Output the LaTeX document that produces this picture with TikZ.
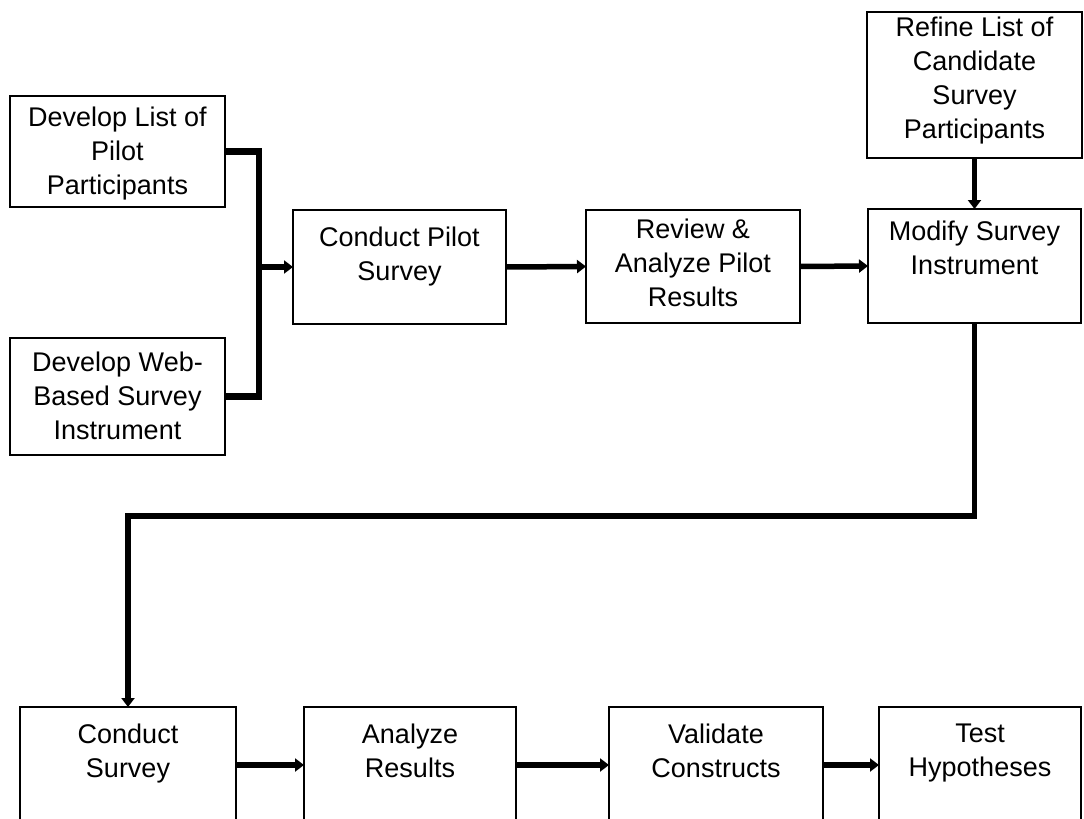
\documentclass[tikz,border=0pt]{standalone}
\usepackage{fontspec}
\setmainfont{Liberation Sans}
\usetikzlibrary{arrows.meta}
\begin{document}
\begin{tikzpicture}[x=1pt,y=-1pt,
  box/.style={draw, line width=1.8pt, anchor=north west, inner sep=0pt, outer sep=0pt},
  lbl/.style={font=\fontsize{27}{34}\selectfont, align=center, anchor=north, inner sep=0pt},
  conn/.style={line width=5.5pt},
  arr/.style={conn, -{Triangle[length=9pt,width=13pt]}}]
\useasboundingbox (0,0) rectangle (1084,819);

% upper chain
\node[box, minimum width=215pt, minimum height=111pt] (dl) at (10,96) {};
\node[lbl] (dlt) at (117.5,107) {Develop List of\\Pilot\\Participants};
\node[box, minimum width=215pt, minimum height=117pt] (dw) at (10,338) {};
\node[lbl] (dwt) at (117.5,352) {Develop Web-\\Based Survey\\Instrument};
\node[box, minimum width=213pt, minimum height=114pt] (cp) at (293,210) {};
\node[lbl] (cpt) at (399.5,227) {Conduct Pilot\\Survey};
\node[box, minimum width=214pt, minimum height=113pt] (rv) at (586,210) {};
\node[lbl] (rvt) at (693,219) {Review \&\\Analyze Pilot\\Results};
\node[box, minimum width=213pt, minimum height=114pt] (md) at (868,209) {};
\node[lbl] (mdt) at (974.5,221) {Modify Survey\\Instrument};
\node[box, minimum width=215pt, minimum height=146pt] (rf) at (867,12) {};
\node[lbl] (rft) at (974.5,17) {Refine List of\\Candidate\\Survey\\Participants};

% lower chain
\node[box, minimum width=216pt, minimum height=116pt] (cs) at (20,707) {};
\node[lbl] (cst) at (128,724) {Conduct\\Survey};
\node[box, minimum width=212pt, minimum height=116pt] (an) at (304,707) {};
\node[lbl] (ant) at (410,724) {Analyze\\Results};
\node[box, minimum width=214pt, minimum height=116pt] (va) at (609,707) {};
\node[lbl] (vat) at (716,724) {Validate\\Constructs};
\node[box, minimum width=202pt, minimum height=116pt] (th) at (879,707) {};
\node[lbl] (tht) at (980,724) {Test\\Hypotheses};

% connectors
\coordinate (bus) at (259,267);
\coordinate (drop) at (0,516);
\draw[conn, line width=6.5pt] (dl.east) -| (bus) |- (dw.east);
\draw[arr] (bus) -- (cp.west);
\draw[arr] (cp.east) -- (rv.west);
\draw[arr] (rv.east) -- (md.west);
\draw[arr] (rf.south) -- (md.north);
\draw[arr] (md.south) -- (md.south |- drop) -| (cs.north);
\draw[arr] (cs.east) -- (an.west);
\draw[arr] (an.east) -- (va.west);
\draw[arr] (va.east) -- (th.west);
\end{tikzpicture}
\end{document}
